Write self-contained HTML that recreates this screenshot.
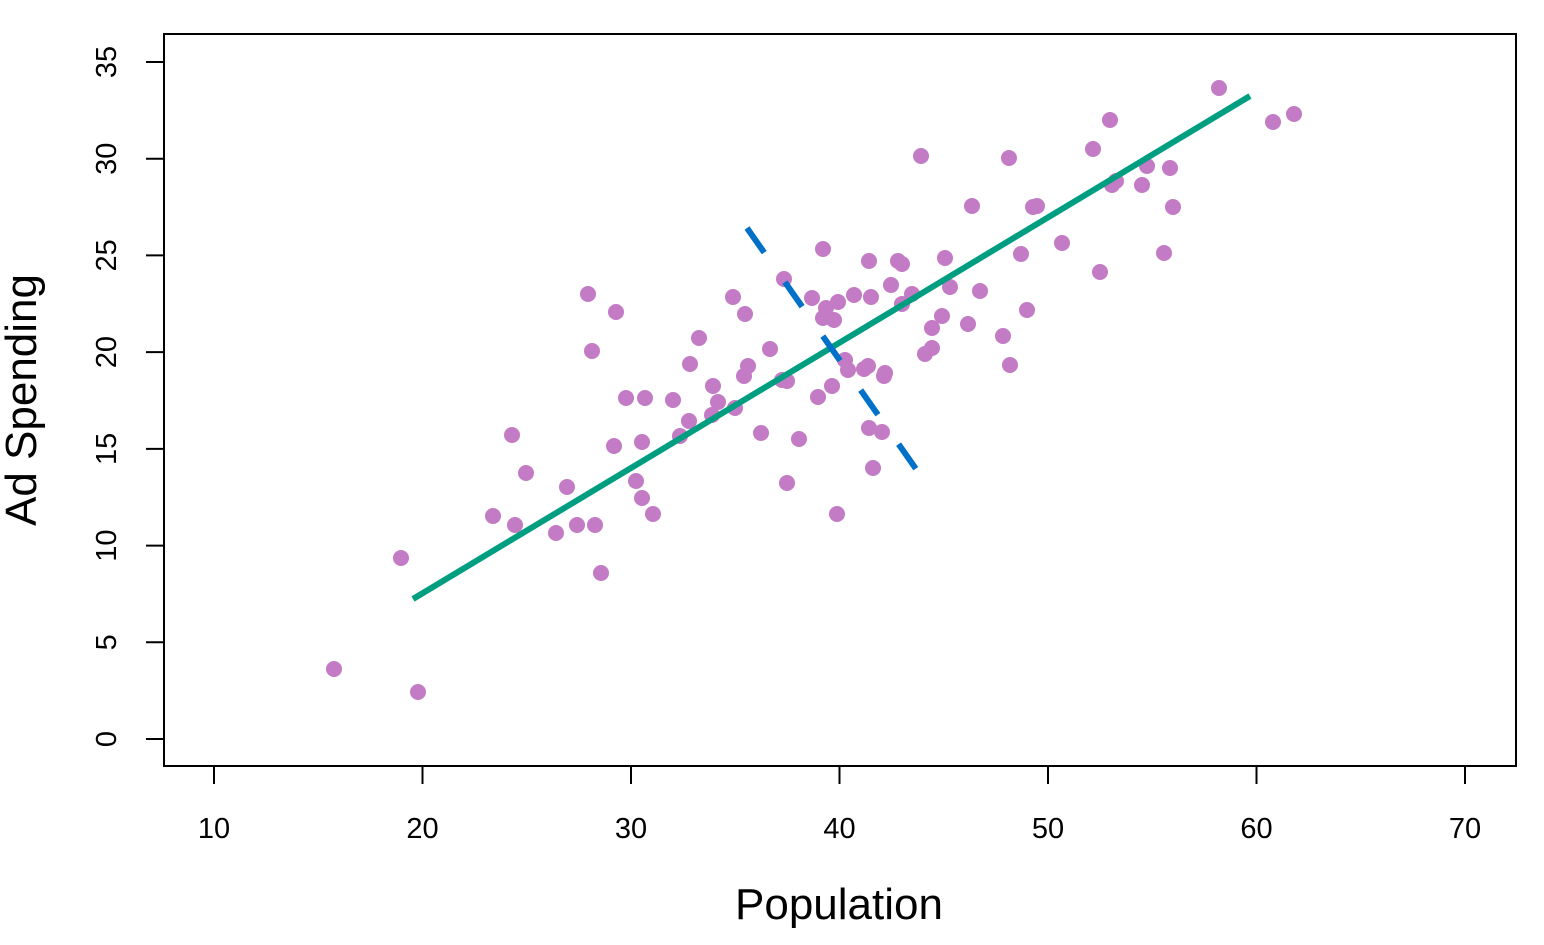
<!DOCTYPE html>
<html><head><meta charset="utf-8"><style>body{margin:0;background:#fff}</style></head><body>
<svg width="1544" height="940" xmlns="http://www.w3.org/2000/svg" font-family="Liberation Sans, sans-serif">
<rect x="164" y="34" width="1352" height="732" fill="none" stroke="#000" stroke-width="2"/>
<g stroke="#000" stroke-width="2">
<line x1="214" y1="766" x2="1465" y2="766"/>
<line x1="214" y1="766" x2="214" y2="784"/><line x1="422.5" y1="766" x2="422.5" y2="784"/><line x1="631" y1="766" x2="631" y2="784"/><line x1="839.5" y1="766" x2="839.5" y2="784"/><line x1="1048" y1="766" x2="1048" y2="784"/><line x1="1256.5" y1="766" x2="1256.5" y2="784"/><line x1="1465" y1="766" x2="1465" y2="784"/>
<line x1="164" y1="739" x2="164" y2="62"/>
<line x1="146" y1="739" x2="164" y2="739"/><line x1="146" y1="642.3" x2="164" y2="642.3"/><line x1="146" y1="545.6" x2="164" y2="545.6"/><line x1="146" y1="448.9" x2="164" y2="448.9"/><line x1="146" y1="352.1" x2="164" y2="352.1"/><line x1="146" y1="255.4" x2="164" y2="255.4"/><line x1="146" y1="158.7" x2="164" y2="158.7"/><line x1="146" y1="62" x2="164" y2="62"/>
</g>
<g font-size="29" text-anchor="middle">
<text x="214" y="838">10</text><text x="422.5" y="838">20</text><text x="631" y="838">30</text><text x="839.5" y="838">40</text><text x="1048" y="838">50</text><text x="1256.5" y="838">60</text><text x="1465" y="838">70</text>
<text transform="translate(116,739) rotate(-90)">0</text>
<text transform="translate(116,642.3) rotate(-90)">5</text>
<text transform="translate(116,545.6) rotate(-90)">10</text>
<text transform="translate(116,448.9) rotate(-90)">15</text>
<text transform="translate(116,352.1) rotate(-90)">20</text>
<text transform="translate(116,255.4) rotate(-90)">25</text>
<text transform="translate(116,158.7) rotate(-90)">30</text>
<text transform="translate(116,62) rotate(-90)">35</text>
</g>
<text x="839" y="919" font-size="44" text-anchor="middle">Population</text>
<text transform="translate(36,400) rotate(-90)" font-size="44" text-anchor="middle">Ad Spending</text>
<g fill="#c27bc4">
<circle cx="334" cy="669" r="8"/><circle cx="418" cy="692" r="8"/><circle cx="401" cy="558" r="8"/><circle cx="493" cy="516" r="8"/><circle cx="512" cy="435" r="8"/><circle cx="515" cy="525" r="8"/><circle cx="526" cy="473" r="8"/><circle cx="556" cy="533" r="8"/><circle cx="567" cy="487" r="8"/><circle cx="577" cy="525" r="8"/><circle cx="595" cy="525" r="8"/><circle cx="601" cy="573" r="8"/><circle cx="588" cy="294" r="8"/><circle cx="592" cy="351" r="8"/><circle cx="616" cy="312" r="8"/><circle cx="614" cy="446" r="8"/><circle cx="626" cy="398" r="8"/><circle cx="636" cy="481" r="8"/><circle cx="642" cy="498" r="8"/><circle cx="642" cy="442" r="8"/><circle cx="645" cy="398" r="8"/><circle cx="653" cy="514" r="8"/><circle cx="673" cy="400" r="8"/><circle cx="680" cy="436" r="8"/><circle cx="689" cy="421" r="8"/><circle cx="690" cy="364" r="8"/><circle cx="699" cy="338" r="8"/><circle cx="713" cy="386" r="8"/><circle cx="712" cy="415" r="8"/><circle cx="718" cy="402" r="8"/><circle cx="733" cy="297" r="8"/><circle cx="735" cy="408" r="8"/><circle cx="745" cy="314" r="8"/><circle cx="744" cy="376" r="8"/><circle cx="748" cy="366" r="8"/><circle cx="761" cy="433" r="8"/><circle cx="770" cy="349" r="8"/><circle cx="784" cy="279" r="8"/><circle cx="782" cy="380" r="8"/><circle cx="787" cy="381" r="8"/><circle cx="787" cy="483" r="8"/><circle cx="799" cy="439" r="8"/><circle cx="812" cy="298" r="8"/><circle cx="818" cy="397" r="8"/><circle cx="823" cy="249" r="8"/><circle cx="823" cy="318" r="8"/><circle cx="826" cy="308" r="8"/><circle cx="834" cy="320" r="8"/><circle cx="838" cy="302" r="8"/><circle cx="832" cy="386" r="8"/><circle cx="837" cy="514" r="8"/><circle cx="845" cy="360" r="8"/><circle cx="848" cy="370" r="8"/><circle cx="854" cy="295" r="8"/><circle cx="864" cy="369" r="8"/><circle cx="868" cy="366" r="8"/><circle cx="869" cy="261" r="8"/><circle cx="869" cy="428" r="8"/><circle cx="871" cy="297" r="8"/><circle cx="873" cy="468" r="8"/><circle cx="882" cy="432" r="8"/><circle cx="885" cy="373" r="8"/><circle cx="884" cy="376" r="8"/><circle cx="891" cy="285" r="8"/><circle cx="898" cy="261" r="8"/><circle cx="902" cy="264" r="8"/><circle cx="902" cy="304" r="8"/><circle cx="912" cy="294" r="8"/><circle cx="921" cy="156" r="8"/><circle cx="925" cy="354" r="8"/><circle cx="932" cy="348" r="8"/><circle cx="932" cy="328" r="8"/><circle cx="942" cy="316" r="8"/><circle cx="945" cy="258" r="8"/><circle cx="950" cy="287" r="8"/><circle cx="968" cy="324" r="8"/><circle cx="972" cy="206" r="8"/><circle cx="980" cy="291" r="8"/><circle cx="1003" cy="336" r="8"/><circle cx="1009" cy="158" r="8"/><circle cx="1010" cy="365" r="8"/><circle cx="1021" cy="254" r="8"/><circle cx="1027" cy="310" r="8"/><circle cx="1033" cy="207" r="8"/><circle cx="1037" cy="206" r="8"/><circle cx="1062" cy="243" r="8"/><circle cx="1093" cy="149" r="8"/><circle cx="1100" cy="272" r="8"/><circle cx="1110" cy="120" r="8"/><circle cx="1112" cy="185" r="8"/><circle cx="1116" cy="181" r="8"/><circle cx="1142" cy="185" r="8"/><circle cx="1147" cy="166" r="8"/><circle cx="1164" cy="253" r="8"/><circle cx="1170" cy="168" r="8"/><circle cx="1173" cy="207" r="8"/><circle cx="1219" cy="88" r="8"/><circle cx="1273" cy="122" r="8"/><circle cx="1294" cy="114" r="8"/>
</g>
<line x1="413" y1="599" x2="1250" y2="96" stroke="#009e80" stroke-width="6"/>
<line x1="747" y1="228" x2="916" y2="469" stroke="#0070c8" stroke-width="6" stroke-dasharray="30,36"/>
</svg>
</body></html>
